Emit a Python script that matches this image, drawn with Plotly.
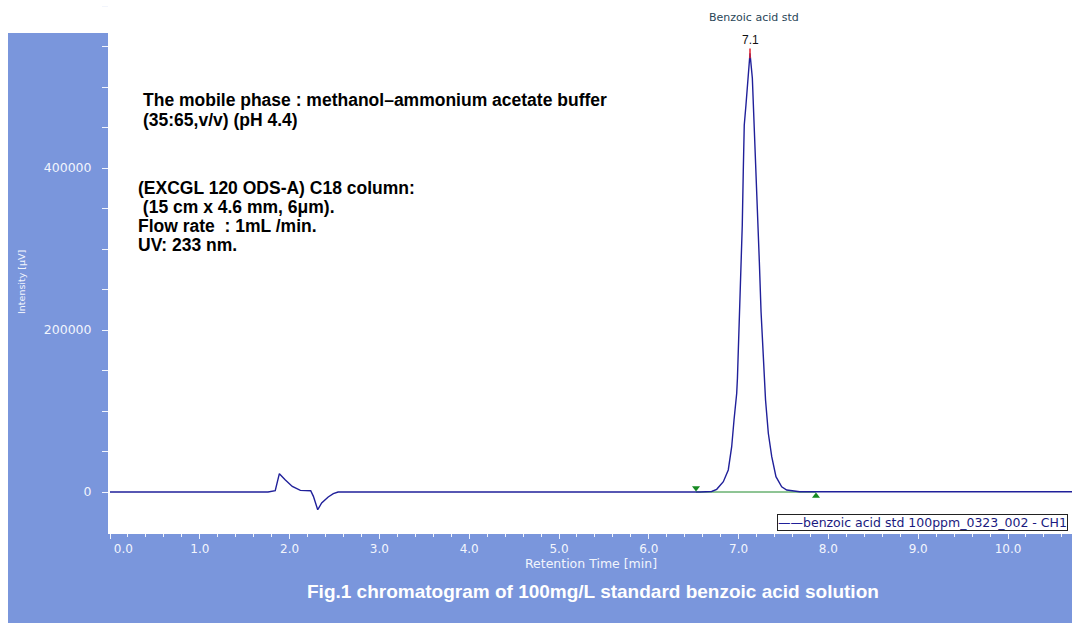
import plotly.graph_objects as go

# ---------------- data ----------------
retention_time = [0.0, 1.76, 1.84, 1.886, 1.95, 2.03, 2.12, 2.235, 2.265, 2.313, 2.357,
                  2.43, 2.487, 2.54, 6.57, 6.70, 6.756, 6.83, 6.885, 6.923, 6.949,
                  6.979, 6.987, 7.008, 7.027, 7.041, 7.052, 7.063, 7.082, 7.101, 7.127,
                  7.153, 7.175, 7.19, 7.213, 7.231, 7.25, 7.275, 7.30, 7.331, 7.369,
                  7.416, 7.48, 7.536, 7.606, 7.68, 10.72]
intensity = [0, 0, 1600, 22600, 15200, 6900, 2000, 1500, -5400, -21900, -13600,
             -6200, -2100, 0, 0, 600, 3300, 12700, 27200, 55900, 88900,
             121900, 140400, 206200, 263800, 329600, 395400, 453100, 477800, 510700, 541600,
             511100, 453100, 400000, 346000, 284300, 222600, 173200, 113600, 72500, 43600,
             18900, 6500, 2500, 1800, 400, 400]

peak_name = ["Benzoic acid std"]
peak_rt = [7.127]
peak_label = ["7.1"]
peak_height = [541600]

integ_rt = [6.526, 7.862]          # integration start / end
integ_marker_level = [5000, -5000]
baseline_level = [0, 0]

x_tick_values = [0, 1, 2, 3, 4, 5, 6, 7, 8, 9, 10]
x_tick_labels = ["0.0", "1.0", "2.0", "3.0", "4.0", "5.0", "6.0", "7.0", "8.0", "9.0", "10.0"]

series_name = "benzoic acid std 100ppm_0323_002 - CH1"
x_title = "Retention Time [min]"
y_title = "Intensity [µV]"
caption = "Fig.1 chromatogram of 100mg/L standard benzoic acid solution"
notes_block1 = ["The mobile phase : methanol\u2013ammonium acetate buffer",
                "(35:65,v/v) (pH 4.4)"]
notes_block2 = ["(EXCGL 120 ODS-A) C18 column:",
                "\u00a0(15 cm x 4.6 mm, 6\u03bcm).",
                "Flow rate \u00a0: 1mL /min.",
                "UV: 233 nm."]

# ---------------- layout helpers ----------------
W, H = 1072, 623
ML, MR, MT, MB = 110, 0, 0, 91
PW, PH = W - ML - MR, H - MT - MB
BLUE = "#7a96dc"
TICKC = "#f2f5fc"
LINEC = "#20209a"


def xp(px):
    return (px - ML) / PW


def yp(py):
    return (MT + PH - py) / PH


# first tick label sits just right of the axis start, as in the original
shown_x_labels = ["\u00a0" * 7 + x_tick_labels[0]] + x_tick_labels[1:]

fig = go.Figure()

# integration baseline (green)
fig.add_trace(go.Scatter(x=integ_rt, y=baseline_level, mode="lines",
                         line=dict(color="#1f8a2a", width=1), showlegend=False,
                         hoverinfo="skip"))
# chromatogram
fig.add_trace(go.Scatter(x=retention_time, y=intensity, mode="lines",
                         name=series_name, showlegend=False,
                         line=dict(color=LINEC, width=1.4)))
# integration markers
fig.add_trace(go.Scatter(x=integ_rt[:1], y=integ_marker_level[:1], mode="markers",
                         marker=dict(symbol="triangle-down", size=7, color="#168a22"),
                         showlegend=False))
fig.add_trace(go.Scatter(x=integ_rt[1:], y=integ_marker_level[1:], mode="markers",
                         marker=dict(symbol="triangle-up", size=7, color="#168a22"),
                         showlegend=False))
# apex marker
fig.add_trace(go.Scatter(x=peak_rt, y=peak_height, mode="markers",
                         marker=dict(symbol="line-ns", size=7,
                                     line=dict(color="#e0202a", width=1.5)),
                         showlegend=False))

shapes = [
    dict(type="rect", xref="paper", yref="paper", x0=xp(8), x1=xp(ML), y0=yp(33), y1=yp(H),
         fillcolor=BLUE, line=dict(width=0), layer="below"),
    dict(type="rect", xref="paper", yref="paper", x0=xp(8), x1=xp(W), y0=yp(MT + PH), y1=yp(H),
         fillcolor=BLUE, line=dict(width=0), layer="below"),
]

ann = []
for i, name in enumerate(peak_name):
    ann.append(dict(x=peak_rt[i], y=peak_height[i], xref="x", yref="y", text=name,
                    showarrow=False, yshift=36, xshift=4,
                    font=dict(family="DejaVu Sans", size=11, color="#2a4658")))
    ann.append(dict(x=peak_rt[i], y=peak_height[i], xref="x", yref="y", text=peak_label[i],
                    showarrow=False, yshift=13,
                    font=dict(family="Liberation Sans", size=12, color="#111111")))

NOTE_FONT = dict(family="Liberation Sans", size=17.5, color="#000000", weight="bold")
for i, line in enumerate(notes_block1):
    ann.append(dict(x=xp(141), y=yp(100 + 20 * i), xref="paper", yref="paper",
                    xanchor="left", yanchor="middle", text=line, showarrow=False,
                    font=NOTE_FONT))
for i, line in enumerate(notes_block2):
    ann.append(dict(x=xp(136), y=yp(188 + 19 * i), xref="paper", yref="paper",
                    xanchor="left", yanchor="middle", text=line, showarrow=False,
                    font=NOTE_FONT))

ann.append(dict(x=xp(593), y=yp(591), xref="paper", yref="paper", text=caption,
                showarrow=False, xanchor="center", yanchor="middle",
                font=dict(family="Liberation Sans", size=19, color="#ffffff", weight="bold")))
ann.append(dict(x=xp(21), y=yp(282), xref="paper", yref="paper", text=y_title,
                showarrow=False, textangle=-90, xanchor="center", yanchor="middle",
                font=dict(family="DejaVu Sans", size=9.5, color=TICKC)))

# legend box (boxed label in the lower right of the plot, as in the original)
ann.append(dict(x=xp(777), y=yp(531), xref="paper", yref="paper",
                xanchor="left", yanchor="bottom", showarrow=False,
                text='<span style="color:%s">\u2014\u2014</span>%s' % (LINEC, series_name),
                bgcolor="#ffffff", bordercolor="#222222", borderwidth=1, borderpad=0,
                font=dict(family="DejaVu Sans", size=12.5, color="#1a1a80")))

y_bottom = -(MT + PH - 492) / 162 * 200000
y_top = (492 - MT) / 162 * 200000

fig.update_layout(
    width=W, height=H,
    margin=dict(l=ML, r=MR, t=MT, b=MB, autoexpand=False),
    paper_bgcolor="#ffffff", plot_bgcolor="#ffffff",
    shapes=shapes, annotations=ann,
    showlegend=False,
    xaxis=dict(range=[0, PW / 89.8], tickmode="array", tickvals=x_tick_values,
               ticktext=shown_x_labels,
               showgrid=False, zeroline=False,
               showline=True, linecolor="#ffffff", linewidth=2,
               ticks="outside", ticklen=5, tickcolor=TICKC, tickwidth=1,
               minor=dict(dtick=0.2, tick0=0, ticks="outside", ticklen=3, tickcolor=TICKC),
               tickfont=dict(family="DejaVu Sans", size=12, color=TICKC),
               title=dict(text=x_title, standoff=1,
                          font=dict(family="DejaVu Sans", size=12.5, color=TICKC))),
    yaxis=dict(range=[y_bottom, y_top], dtick=200000, tick0=0, tickformat="d",
               showgrid=False, zeroline=False,
               showline=True, linecolor="#ffffff", linewidth=2,
               ticks="outside", ticklen=6, tickcolor=TICKC, tickwidth=1,
               minor=dict(dtick=50000, ticks="outside", ticklen=6, tickcolor=TICKC),
               ticklabelstandoff=8,
               tickfont=dict(family="DejaVu Sans", size=12.5, color=TICKC)),
)

fig.write_html("out.html")
